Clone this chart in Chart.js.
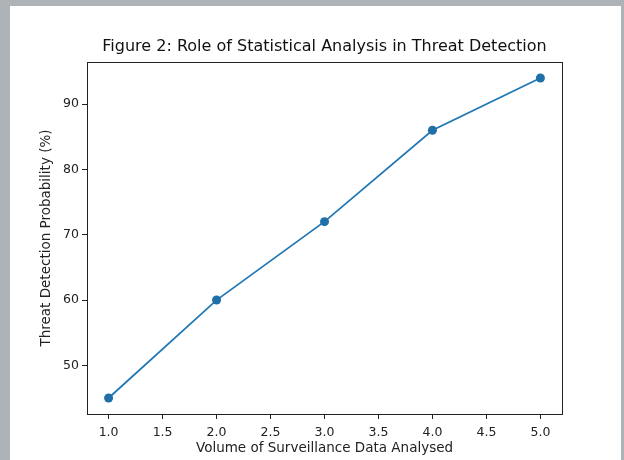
<!DOCTYPE html>
<html>
<head>
<meta charset="utf-8">
<script src="https://cdn.jsdelivr.net/npm/chart.js@4.4.0/dist/chart.umd.min.js"></script>
<style>
  html, body { margin: 0; padding: 0; background: #aeb3b8; }
  #wrap { width: 624px; height: 460px; position: relative; }
</style>
</head>
<body>
<div id="wrap"><canvas id="threatChart" width="624" height="460"></canvas></div>
<script>
// data
const volume = [1, 2, 3, 4, 5];
const probability = [45, 60, 72, 86, 94];
const xTicks = [1.0, 1.5, 2.0, 2.5, 3.0, 3.5, 4.0, 4.5, 5.0];
const yTicks = [50, 60, 70, 80, 90];

const chartTitle = "Figure 2: Role of Statistical Analysis in Threat Detection";
const xLabel = "Volume of Surveillance Data Analysed";
const yLabel = "Threat Detection Probability (%)";

const font = "'DejaVu Sans', sans-serif";

// paint the gray surround, the white figure and the full axes box
const figurePlugin = {
    id: "figure",
    beforeDraw(chart) {
        const ctx = chart.ctx;
        ctx.save();
        ctx.fillStyle = "#aeb3b8";
        ctx.fillRect(0, 0, chart.width, chart.height);
        ctx.fillStyle = "#ffffff";
        ctx.fillRect(10, 6, 611, 454);
        ctx.restore();
    },
    afterDraw(chart) {
        const a = chart.chartArea;
        const ctx = chart.ctx;
        ctx.save();
        ctx.strokeStyle = "#222";
        ctx.lineWidth = 1;
        ctx.strokeRect(Math.round(a.left) + 0.5, Math.round(a.top) + 0.5,
            Math.round(a.right - a.left), Math.round(a.bottom - a.top));
        ctx.fillStyle = "#111";
        ctx.font = "16px " + font;
        ctx.textAlign = "center";
        ctx.textBaseline = "middle";
        ctx.fillText(chartTitle, (a.left + a.right) / 2, 47);
        ctx.restore();
    }
};

var ctx = document.getElementById("threatChart").getContext("2d");

var threatChart = new Chart(ctx, {
    type: "line",
    data: {
        datasets: [{
            label: "probability",
            data: volume.map((v, i) => ({ x: v, y: probability[i] })),
            borderColor: "#1f77b4",
            backgroundColor: "#1f77b4",
            borderWidth: 1.7,
            pointRadius: 4.5,
            pointBorderWidth: 0,
            pointBackgroundColor: "#1f6fa8",
            fill: false,
            tension: 0
        }]
    },
    options: {
        responsive: false,
        animation: false,
        layout: { padding: { left: 10, top: 62, right: 62, bottom: 0 } },
        plugins: {
            legend: { display: false },
            tooltip: { enabled: false }
        },
        scales: {
            x: {
                type: "linear",
                min: 0.8,
                max: 5.2,
                afterBuildTicks: s => { s.ticks = xTicks.map(v => ({ value: v })); },
                afterFit: s => { s.height = 46; },
                grid: { drawOnChartArea: false, tickLength: 5, color: "#222" },
                border: { color: "#222" },
                ticks: {
                    padding: 6,
                    color: "#222",
                    font: { family: font, size: 12.5 },
                    callback: v => Number(v).toFixed(1),
                    maxRotation: 0
                },
                title: {
                    display: true,
                    text: xLabel,
                    color: "#222",
                    font: { family: font, size: 13.5 },
                    padding: { top: 0, bottom: 3 }
                }
            },
            y: {
                type: "linear",
                min: 42.55,
                max: 96.45,
                afterBuildTicks: s => { s.ticks = yTicks.map(v => ({ value: v })); },
                afterFit: s => { s.width = 77; },
                grid: { drawOnChartArea: false, tickLength: 5, color: "#222" },
                border: { color: "#222" },
                ticks: {
                    padding: 3,
                    color: "#222",
                    font: { family: font, size: 12.5 }
                },
                title: {
                    display: true,
                    text: yLabel,
                    color: "#222",
                    font: { family: font, size: 13.5 },
                    padding: { top: 28, bottom: 0 }
                }
            }
        }
    },
    plugins: [figurePlugin]
});
</script>
</body>
</html>
